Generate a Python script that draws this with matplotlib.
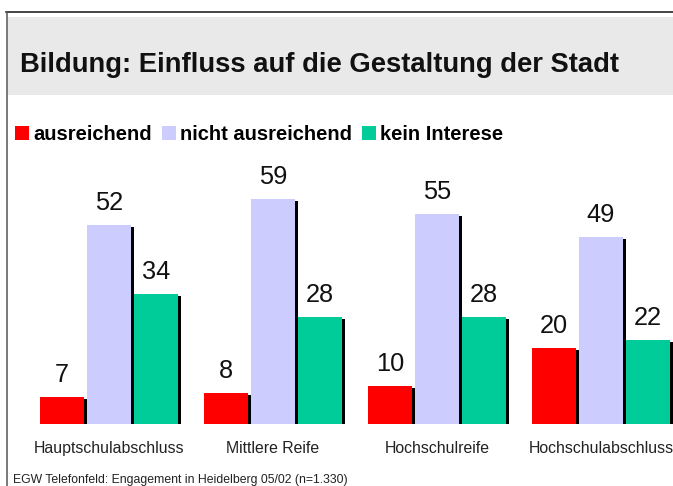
import matplotlib
matplotlib.use("Agg")
import matplotlib.pyplot as plt
import matplotlib.patches as patches
import matplotlib.lines as mlines
import matplotlib.transforms as mtransforms
import numpy as np

plt.rcParams['font.family'] = ['Liberation Sans', 'DejaVu Sans']

# Data
categories = ['Hauptschulabschluss', 'Mittlere Reife', 'Hochschulreife', 'Hochschulabschluss']
series_names = ['ausreichend', 'nicht ausreichend', 'kein Interese']
ausreichend = [7, 8, 10, 20]
nicht_ausreichend = [52, 59, 55, 49]
kein_interesse = [34, 28, 28, 22]
series_colors = ['#FF0000', '#CCCCFF', '#00CC99']

title = 'Bildung: Einfluss auf die Gestaltung der Stadt'
footnote = 'EGW Telefonfeld: Engagement in Heidelberg 05/02 (n=1.330)'

W, H = 673, 486
fig = plt.figure(figsize=(W / 100, H / 100), dpi=100)
fig.patch.set_facecolor('white')


def fx(x):
    return x / W


def fy(y):
    return 1 - y / H


# title band and frame
fig.patches.append(patches.Rectangle((fx(8), fy(95)), fx(665), 78 / H,
                                     transform=fig.transFigure, facecolor='#E9E9E9',
                                     edgecolor='none', zorder=0))
fig.lines.append(mlines.Line2D([fx(6), 1], [fy(12.5), fy(12.5)], transform=fig.transFigure,
                               color='#111111', lw=1.1))
fig.lines.append(mlines.Line2D([fx(6.5), fx(6.5)], [fy(12), 0], transform=fig.transFigure,
                               color='#555555', lw=1.1))

fig.text(fx(19.5), fy(72), title, fontsize=19.7, fontweight='bold',
         ha='left', va='baseline', color='#111111')

# bars
px_per_group = 164.0
px_per_unit = 3.82
ax = fig.add_axes([0, 62 / H, 1, 412 / H])
ax.set_xlim(-109 / px_per_group, (W - 109) / px_per_group)
ax.set_ylim(0, 412 / px_per_unit)
for s in ax.spines.values():
    s.set_visible(False)
ax.set_yticks([])

x = np.arange(len(categories))
bar_w = 44 / px_per_group
step = 47 / px_per_group
shadow_tr = ax.transData + mtransforms.ScaledTranslation(3 / 100, -2 / 100, fig.dpi_scale_trans)

all_series = [ausreichend, nicht_ausreichend, kein_interesse]
for i, (vals, col, name) in enumerate(zip(all_series, series_colors, series_names)):
    pos = x + (i - 1) * step
    shadow = ax.bar(pos, vals, width=bar_w, color='black', zorder=1)
    for p in shadow:
        p.set_transform(shadow_tr)
    ax.bar(pos, vals, width=bar_w, color=col, zorder=2, label=name)
    for xp, v in zip(pos, vals):
        ax.annotate(str(v), (xp, v), xytext=(0, 10.8), textcoords='offset points',
                    ha='center', va='baseline', fontsize=18.3, color='#111111')

ax.set_xticks(x, categories)
ax.tick_params(axis='x', length=0, pad=12.2, labelsize=11.4, labelcolor='#222222')

fig.legend(loc='upper left', bbox_to_anchor=(fx(15), fy(125)), ncol=3, frameon=False,
           prop={'weight': 'bold', 'size': 14.5}, handlelength=0.695, handleheight=0.695,
           handletextpad=0.2, columnspacing=0.5, borderpad=0, borderaxespad=0)

fig.text(fx(13), fy(483), footnote, fontsize=8.8, ha='left', va='baseline', color='#222222')

fig.savefig('out.png', dpi=100)
